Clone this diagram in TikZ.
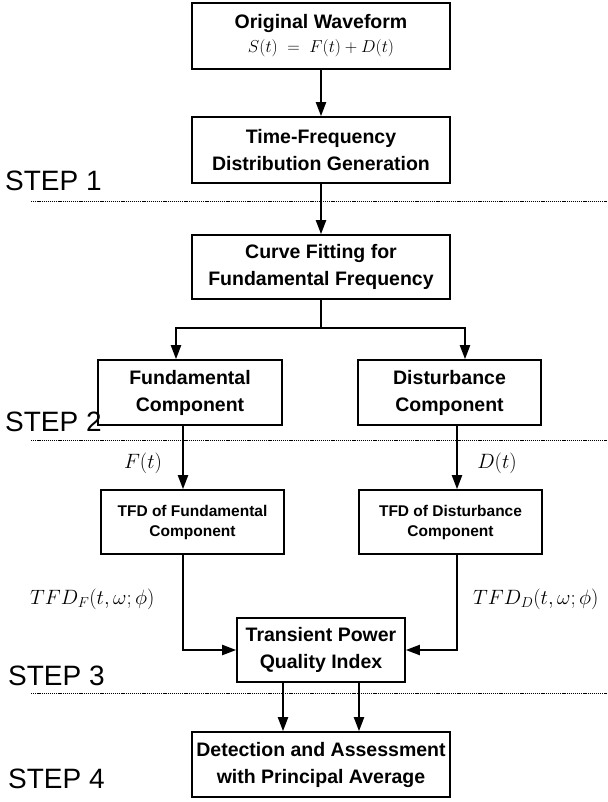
\documentclass[tikz,border=0pt]{standalone}
\usepackage[no-math]{fontspec}
\setmainfont{Liberation Sans}
\usetikzlibrary{arrows.meta}
\begin{document}
\begin{tikzpicture}[x=1pt,y=-1pt,
  box/.style={draw, line width=1.6pt, rectangle, inner sep=0pt, align=center,
    font=\bfseries\fontsize{19.5}{27}\selectfont},
  smallbox/.style={box, font=\bfseries\fontsize{15.5}{20}\selectfont},
  flow/.style={line width=2pt, -{Triangle[length=14pt,width=10pt]}},
  link/.style={line width=2pt},
  stage/.style={anchor=west, inner sep=0pt, font=\fontsize{28}{30}\selectfont},
  divider/.style={line width=0.8pt, dash pattern=on 1.2pt off 0.9pt},
  lbl/.style={inner sep=0pt, font=\fontsize{20}{24}\selectfont},
  biglbl/.style={inner sep=0pt, anchor=west, font=\fontsize{22.5}{26}\selectfont}
]
\useasboundingbox (0,0) rectangle (607,802);

% processing blocks
\node[box, minimum width=258pt, minimum height=66pt] (orig) at (321,36)
  {Original Waveform\\[-3pt]{\mdseries\fontsize{18.5}{21}\selectfont $S(t)\;=\;F(t)+D(t)$}};
\node[box, minimum width=258pt, minimum height=66pt] (tfdgen) at (321,150)
  {Time-Frequency\\Distribution Generation};
\node[box, minimum width=258pt, minimum height=64pt] (fit) at (321,267)
  {Curve Fitting for\\Fundamental Frequency};
\node[box, minimum width=184pt, minimum height=65pt] (fund) at (190,392.5)
  {Fundamental\\Component};
\node[box, minimum width=183pt, minimum height=65pt] (dist) at (449.5,392.5)
  {Disturbance\\Component};
\node[smallbox, minimum width=183pt, minimum height=64pt] (tfdf) at (192.5,522)
  {TFD of Fundamental\\Component};
\node[smallbox, minimum width=183pt, minimum height=64pt] (tfdd) at (450.5,522)
  {TFD of Disturbance\\Component};
\node[box, minimum width=168pt, minimum height=64pt] (tpqi) at (321,650)
  {Transient Power\\Quality Index};
\node[box, minimum width=258pt, minimum height=65pt] (detect) at (321,764.5)
  {Detection and Assessment\\with Principal Average};

% stage labels and separators
\node[stage] (s1) at (5,181) {STEP 1};
\node[stage] (s2) at (5,422) {STEP 2};
\node[stage] (s3) at (8,676) {STEP 3};
\node[stage] (s4) at (8,779) {STEP 4};
\draw[divider] (31,201) -- (607,201);
\draw[divider] (31,440) -- (607,440);
\draw[divider] (31,693) -- (607,693);

% signal labels
\node[lbl] (lf) at (143,463) {$F(t)$};
\node[lbl] (ld) at (497,463) {$D(t)$};
\node[biglbl] (ltf) at (30,599) {$TFD_F(t,\omega;\phi)$};
\node[biglbl] (ltd) at (473,599) {$TFD_D(t,\omega;\phi)$};

% connectors
\coordinate (split) at (321,328);
\coordinate (fa) at (176,0);
\coordinate (da) at (465,0);
\coordinate (fx) at (183,0);
\coordinate (dx) at (457,0);
\coordinate (qa) at (283,0);
\coordinate (qb) at (359,0);

\draw[flow] (orig.south) -- (tfdgen.north);
\draw[flow] (tfdgen.south) -- (fit.north);
\draw[link] (fit.south) -- (split);
\draw[flow] (split) -| (fund.north -| fa);
\draw[flow] (split) -| (dist.north -| da);
\draw[flow] (fund.south -| fx) -- (tfdf.north -| fx);
\draw[flow] (dist.south -| dx) -- (tfdd.north -| dx);
\draw[flow] (tfdf.south -| fx) |- (tpqi.west);
\draw[flow] (tfdd.south -| dx) |- (tpqi.east);
\draw[flow] (tpqi.south -| qa) -- (detect.north -| qa);
\draw[flow] (tpqi.south -| qb) -- (detect.north -| qb);
\end{tikzpicture}
\end{document}
